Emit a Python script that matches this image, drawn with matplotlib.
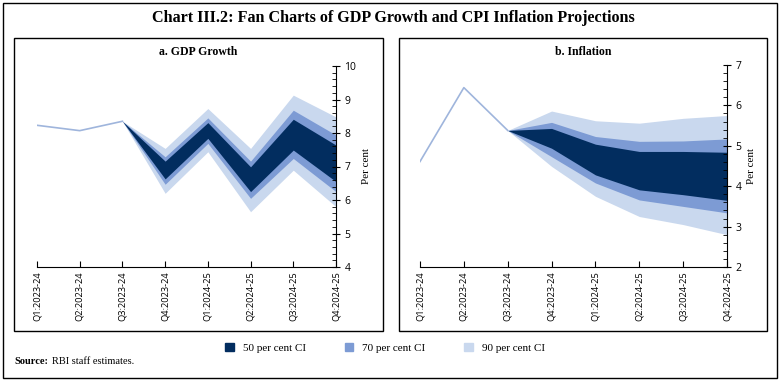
import matplotlib
matplotlib.use('Agg')
import matplotlib.pyplot as plt
from matplotlib.patches import Rectangle, Patch
from matplotlib.ticker import MultipleLocator

quarters = ['Q1:2023-24', 'Q2:2023-24', 'Q3:2023-24', 'Q4:2023-24',
            'Q1:2024-25', 'Q2:2024-25', 'Q3:2024-25', 'Q4:2024-25']

# GDP growth: actuals for first three quarters, fan from Q3:2023-24 onwards
gdp_actual = [8.23, 8.07, 8.35]
gdp_90_hi = [8.35, 7.54, 8.73, 7.54, 9.13, 8.48]
gdp_70_hi = [8.35, 7.29, 8.45, 7.16, 8.68, 7.94]
gdp_50_hi = [8.35, 7.16, 8.31, 6.99, 8.41, 7.64]
gdp_50_lo = [8.35, 6.63, 7.84, 6.25, 7.49, 6.55]
gdp_70_lo = [8.35, 6.47, 7.69, 6.05, 7.24, 6.25]
gdp_90_lo = [8.35, 6.20, 7.44, 5.65, 6.89, 5.80]

# CPI inflation
cpi_actual = [4.61, 6.44, 5.38]
cpi_90_hi = [5.38, 5.86, 5.62, 5.56, 5.68, 5.75]
cpi_70_hi = [5.38, 5.58, 5.23, 5.11, 5.12, 5.17]
cpi_50_hi = [5.38, 5.43, 5.04, 4.86, 4.86, 4.84]
cpi_50_lo = [5.38, 4.94, 4.28, 3.91, 3.79, 3.65]
cpi_70_lo = [5.38, 4.73, 4.08, 3.66, 3.50, 3.34]
cpi_90_lo = [5.38, 4.49, 3.75, 3.25, 3.05, 2.80]

c50 = '#022d5f'
c70 = '#7d9bd4'
c90 = '#c9d8ee'
cline = '#9fb5dc'

serif = 'Liberation Serif'
sans = 'Open Sans'

fig = plt.figure(figsize=(7.83, 3.84), dpi=100)
W, H = 783.0, 384.0

def box(x0, y0, x1, y1):
    fig.patches.append(Rectangle((x0 / W, 1 - y1 / H), (x1 - x0) / W, (y1 - y0) / H,
                                 transform=fig.transFigure, fill=False,
                                 edgecolor='black', linewidth=1.0))

box(3, 3, 777, 378)
box(14, 38, 383, 331)
box(399, 38, 767, 331)

fig.text(393 / W, 1 - 18 / H, 'Chart III.2: Fan Charts of GDP Growth and CPI Inflation Projections',
         ha='center', va='center', fontsize=11.6, family=serif, weight='bold')


def fan(ax, actual, bands, ylim, title, box_cx):
    xs = list(range(len(quarters)))
    fx = xs[2:]
    ax.fill_between(fx, bands[0], bands[5], color=c90, linewidth=0)
    ax.fill_between(fx, bands[1], bands[4], color=c70, linewidth=0)
    ax.fill_between(fx, bands[2], bands[3], color=c50, linewidth=0)
    ax.plot(xs[:3], actual, color=cline, linewidth=1.2)
    ax.set_xlim(0, len(quarters) - 1)
    ax.set_ylim(*ylim)
    ax.yaxis.tick_right()
    ax.yaxis.set_label_position('right')
    ax.spines['left'].set_visible(False)
    ax.spines['top'].set_visible(False)
    ax.spines['right'].set_linewidth(0.8)
    ax.spines['bottom'].set_linewidth(0.8)
    ax.set_xticks(xs)
    ax.set_xticklabels(quarters, rotation=90, family=sans, fontsize=6.7)
    ax.yaxis.set_major_locator(MultipleLocator(1))
    ax.yaxis.set_minor_locator(MultipleLocator(0.2))
    ax.tick_params(axis='y', which='major', direction='inout', length=6, width=0.8,
                   labelsize=7.5, pad=3)
    ax.tick_params(axis='y', which='minor', direction='in', length=3, width=0.6)
    ax.tick_params(axis='x', direction='in', length=4, width=0.8, pad=3)
    for lbl in ax.get_yticklabels():
        lbl.set_family(sans)
    ax.set_ylabel('Per cent', family=serif, fontsize=8, labelpad=4)
    fig.text(box_cx / W, 1 - 52 / H, title, ha='center', va='center',
             family=serif, fontsize=8.5, weight='bold')


ax1 = fig.add_axes([37 / W, 1 - 267 / H, (336 - 37) / W, (267 - 66) / H])
fan(ax1, gdp_actual, [gdp_90_hi, gdp_70_hi, gdp_50_hi, gdp_50_lo, gdp_70_lo, gdp_90_lo],
    (4, 10), 'a. GDP Growth', 198)

ax2 = fig.add_axes([420 / W, 1 - 267 / H, (727 - 420) / W, (267 - 65) / H])
fan(ax2, cpi_actual, [cpi_90_hi, cpi_70_hi, cpi_50_hi, cpi_50_lo, cpi_70_lo, cpi_90_lo],
    (2, 7), 'b. Inflation', 583)

handles = [Patch(color=c50, label='50 per cent CI'),
           Patch(color=c70, label='70 per cent CI'),
           Patch(color=c90, label='90 per cent CI')]
fig.legend(handles=handles, loc='center', bbox_to_anchor=(385 / W, 1 - 348 / H), ncol=3,
           frameon=False, prop={'family': serif, 'size': 8}, handlelength=0.8,
           handleheight=0.8, columnspacing=3.5, handletextpad=0.8)

fig.text(14 / W, 1 - 362 / H, 'Source:', ha='left', va='center', family=serif,
         fontsize=7.5, weight='bold')
fig.text(52 / W, 1 - 362 / H, 'RBI staff estimates.', ha='left', va='center',
         family=serif, fontsize=7.5)

fig.savefig('out.png', dpi=100)
